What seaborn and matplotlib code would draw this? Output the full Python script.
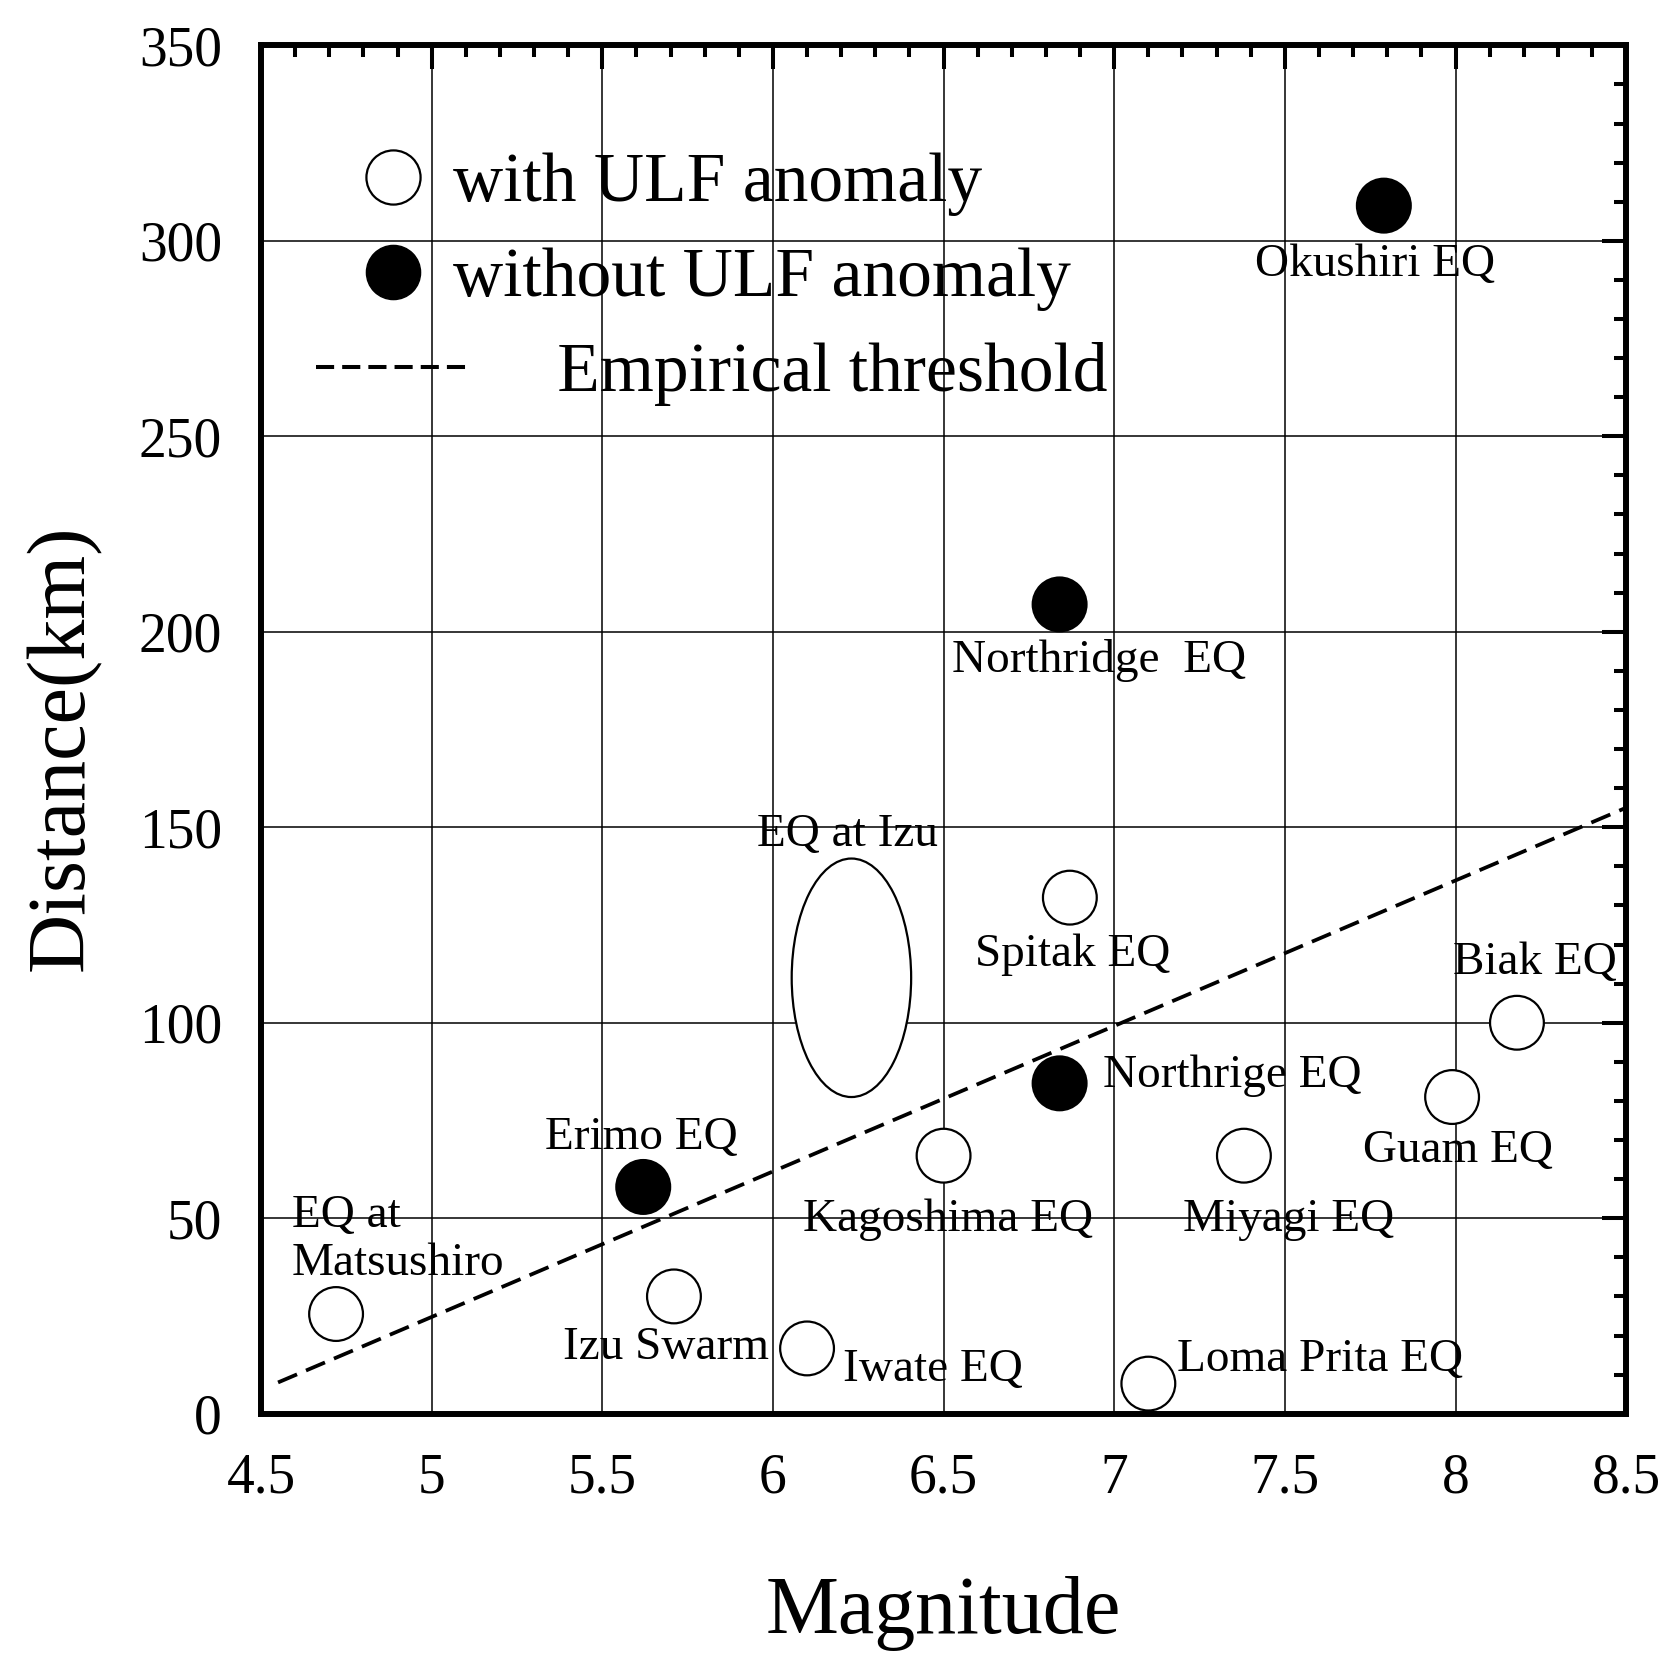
import pandas as pd
import matplotlib.pyplot as plt
import seaborn as sns
from matplotlib.patches import Ellipse
from matplotlib.lines import Line2D
from matplotlib.ticker import MultipleLocator

# earthquakes with ULF anomaly (open circles)
with_names = ["EQ at Matsushiro", "Izu Swarm", "Iwate EQ", "Kagoshima EQ", "Spitak EQ",
              "Loma Prita EQ", "Miyagi EQ", "Guam EQ", "Biak EQ"]
with_mag = [4.72, 5.71, 6.10, 6.50, 6.87, 7.10, 7.38, 7.99, 8.18]
with_dist = [25.5, 30, 16.7, 66, 132, 7.7, 66, 81, 100]

# earthquakes without ULF anomaly (filled circles)
without_names = ["Erimo EQ", "Northrige EQ", "Northridge EQ", "Okushiri EQ"]
without_mag = [5.62, 6.84, 6.84, 7.79]
without_dist = [58, 84.5, 207, 309]

# EQ at Izu is shown as an ellipse (spread in magnitude and distance)
izu_mag = 6.23
izu_dist = 111.5
izu_mag_span = 0.35
izu_dist_span = 61

# empirical threshold line
threshold_mag = [4.55, 8.5]
threshold_dist = [8, 155]

df = pd.DataFrame({
    "mag": with_mag + without_mag,
    "dist": with_dist + without_dist,
    "group": ["with"] * len(with_mag) + ["without"] * len(without_mag),
})
thr = pd.DataFrame({"mag": threshold_mag, "dist": threshold_dist})

# annotation text: (text, x, y, ha)
annotations = [
    ("Okushiri EQ", 7.765, 294, "center"),
    ("Northridge  EQ", 6.955, 192.7, "center"),
    ("EQ at Izu", 6.217, 148, "center"),
    ("Spitak EQ", 6.877, 117.5, "center"),
    ("Biak EQ", 8.233, 115.3, "center"),
    ("Northrige EQ", 7.345, 86.5, "center"),
    ("Erimo EQ", 5.615, 70.5, "center"),
    ("Guam EQ", 8.007, 67.3, "center"),
    ("Kagoshima EQ", 6.513, 49.7, "center"),
    ("Miyagi EQ", 7.511, 49.7, "center"),
    ("EQ at\nMatsushiro", 4.591, 44.5, "left"),
    ("Izu Swarm", 5.687, 17, "center"),
    ("Iwate EQ", 6.469, 11.3, "center"),
    ("Loma Prita EQ", 7.602, 13.7, "center"),
]

sns.set_style("white")
plt.rcParams['font.family'] = ['Liberation Serif', 'DejaVu Serif']
plt.rcParams['text.color'] = 'black'
plt.rcParams['axes.labelcolor'] = 'black'

DASH = (0, (5.5, 2.6))

fig = plt.figure(figsize=(16.73, 16.79), dpi=100)
ax = fig.add_axes([0.156, 0.158, 0.816, 0.815])

ax.grid(True, which="major", color="black", linewidth=1.1)
ax.set_axisbelow(True)

sns.lineplot(data=thr, x="mag", y="dist", ax=ax, color="black", linewidth=2.7,
             linestyle=DASH, legend=False, zorder=2)

sns.scatterplot(data=df, x="mag", y="dist", hue="group",
                palette={"with": "white", "without": "black"},
                edgecolor="black", linewidth=1.6, s=1500, legend=False, ax=ax, zorder=3)

ax.add_patch(Ellipse((izu_mag, izu_dist), izu_mag_span, izu_dist_span,
                     facecolor="white", edgecolor="black", linewidth=1.6, zorder=3))

for txt, x, y, ha in annotations:
    ax.text(x, y, txt, ha=ha, va="center", fontsize=34, linespacing=1.15,
            color="black", zorder=4)

ax.set_xlim(4.5, 8.5)
ax.set_ylim(0, 350)
ax.xaxis.set_major_locator(MultipleLocator(0.5))
ax.xaxis.set_minor_locator(MultipleLocator(0.1))
ax.yaxis.set_major_locator(MultipleLocator(50))
ax.yaxis.set_minor_locator(MultipleLocator(10))
ax.xaxis.set_major_formatter(plt.FuncFormatter(lambda v, p: f"{v:g}"))

ax.tick_params(which="both", direction="in", top=True, right=True,
               colors="black", labelcolor="black")
ax.tick_params(which="major", length=17, width=2.9, labelsize=40, pad=28)
ax.tick_params(which="minor", length=8.5, width=2.9)
for sp in ax.spines.values():
    sp.set_linewidth(4.3)
    sp.set_color("black")

ax.set_xlabel("Magnitude", fontsize=59, labelpad=51, color="black")
ax.set_ylabel("Distance(km)", fontsize=59, labelpad=27, color="black")
ax.yaxis.label.set_y(0.487)

handles = [
    Line2D([], [], linestyle="none", marker="o", markersize=39, markerfacecolor="white",
           markeredgecolor="black", markeredgewidth=1.6),
    Line2D([], [], linestyle="none", marker="o", markersize=39, markerfacecolor="black",
           markeredgecolor="black"),
    Line2D([], [], color="black", linewidth=2.9, linestyle=(0, (4.5, 2))),
]
labels = ["with ULF anomaly", "without ULF anomaly", "      Empirical threshold"]
leg = ax.legend(handles, labels, loc="upper left", bbox_to_anchor=(0.02, 0.942), frameon=False,
                fontsize=50, handlelength=2.23, handletextpad=-0.26, labelspacing=0.45,
                borderaxespad=0)
for t in leg.get_texts():
    t.set_color("black")

fig.savefig("out.png", dpi=100, facecolor="white")
